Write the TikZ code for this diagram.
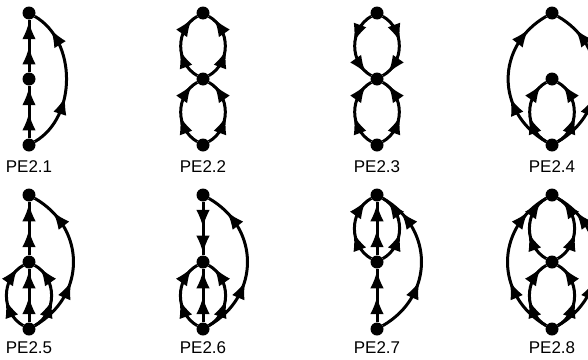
\documentclass[tikz,border=0pt]{standalone}
\usepackage{fontspec}
\newfontfamily\labfont{Liberation Sans}
\usetikzlibrary{decorations.markings}
\newcommand\myhead{\fill[black] (9pt,0pt) .. controls (3pt,0.9pt) and (-4pt,4pt) .. (-9pt,6.6pt)
      -- (-9pt,-6.6pt) .. controls (-4pt,-4pt) and (3pt,-0.9pt) .. (9pt,0pt) -- cycle;}
\tikzset{
  dot/.style={circle,fill=black,inner sep=0pt,minimum size=13pt},
  lab/.style={font=\labfont\fontsize{17}{18}\selectfont,inner sep=0pt},
  e/.style={line width=3pt,postaction={decorate},
    decoration={markings,
      mark=at position 0.32 with {\myhead},
      mark=at position 0.80 with {\myhead}}},
  sl/.style={bend left=60,looseness=1.1},
  sr/.style={bend right=60,looseness=1.1},
  bl/.style={bend left=60,looseness=1.2},
  br/.style={bend right=60,looseness=1.2},
}
\begin{document}
\begin{tikzpicture}[x=1pt,y=-1pt]
\useasboundingbox (0,0) rectangle (588,359);
% ---------- row 1
% PE2.1
\node[dot] (a1t) at (29,13) {};
\node[dot] (a1m) at (29,79) {};
\node[dot] (a1b) at (29,145) {};
\node[lab] (l1) at (29,167) {PE2.1};
\draw[e] (a1b) -- (a1m);
\draw[e] (a1m) -- (a1t);
\draw[e] (a1b) to[bend right=60,looseness=1.0] (a1t);
% PE2.2
\node[dot] (a2t) at (203,13) {};
\node[dot] (a2m) at (203,79) {};
\node[dot] (a2b) at (203,145) {};
\node[lab] (l2) at (203,167) {PE2.2};
\draw[e] (a2b) to[sl] (a2m);
\draw[e] (a2b) to[sr] (a2m);
\draw[e] (a2m) to[sl] (a2t);
\draw[e] (a2m) to[sr] (a2t);
% PE2.3
\node[dot] (a3t) at (377,13) {};
\node[dot] (a3m) at (377,79) {};
\node[dot] (a3b) at (377,145) {};
\node[lab] (l3) at (377,167) {PE2.3};
\draw[e] (a3b) to[sl] (a3m);
\draw[e] (a3b) to[sr] (a3m);
\draw[e] (a3t) to[sl] (a3m);
\draw[e] (a3t) to[sr] (a3m);
% PE2.4
\node[dot] (a4t) at (552,13) {};
\node[dot] (a4m) at (552,79) {};
\node[dot] (a4b) at (552,145) {};
\node[lab] (l4) at (552,167) {PE2.4};
\draw[e] (a4b) to[sl] (a4m);
\draw[e] (a4b) to[sr] (a4m);
\draw[e] (a4b) to[bl] (a4t);
\draw[e] (a4b) to[br] (a4t);
% ---------- row 2
% PE2.5
\node[dot] (b1t) at (29,195) {};
\node[dot] (b1m) at (29,262) {};
\node[dot] (b1b) at (29,329) {};
\node[lab] (l5) at (29,348) {PE2.5};
\draw[e] (b1b) to[sl] (b1m);
\draw[e] (b1b) -- (b1m);
\draw[e] (b1b) to[sr] (b1m);
\draw[e] (b1m) -- (b1t);
\draw[e] (b1b) to[br] (b1t);
% PE2.6
\node[dot] (b2t) at (203,195) {};
\node[dot] (b2m) at (203,262) {};
\node[dot] (b2b) at (203,329) {};
\node[lab] (l6) at (203,348) {PE2.6};
\draw[e] (b2b) to[sl] (b2m);
\draw[e] (b2b) -- (b2m);
\draw[e] (b2b) to[sr] (b2m);
\draw[e] (b2t) -- (b2m);
\draw[e] (b2b) to[br] (b2t);
% PE2.7
\node[dot] (b3t) at (377,195) {};
\node[dot] (b3m) at (377,262) {};
\node[dot] (b3b) at (377,329) {};
\node[lab] (l7) at (377,348) {PE2.7};
\draw[e] (b3b) -- (b3m);
\draw[e] (b3m) to[sl] (b3t);
\draw[e] (b3m) -- (b3t);
\draw[e] (b3m) to[sr] (b3t);
\draw[e] (b3b) to[br] (b3t);
% PE2.8
\node[dot] (b4t) at (552,195) {};
\node[dot] (b4m) at (552,262) {};
\node[dot] (b4b) at (552,329) {};
\node[lab] (l8) at (552,348) {PE2.8};
\draw[e] (b4b) to[sl] (b4m);
\draw[e] (b4b) to[sr] (b4m);
\draw[e] (b4m) to[sl] (b4t);
\draw[e] (b4m) to[sr] (b4t);
\draw[e] (b4b) to[bl] (b4t);
\draw[e] (b4b) to[br] (b4t);
\end{tikzpicture}
\end{document}
